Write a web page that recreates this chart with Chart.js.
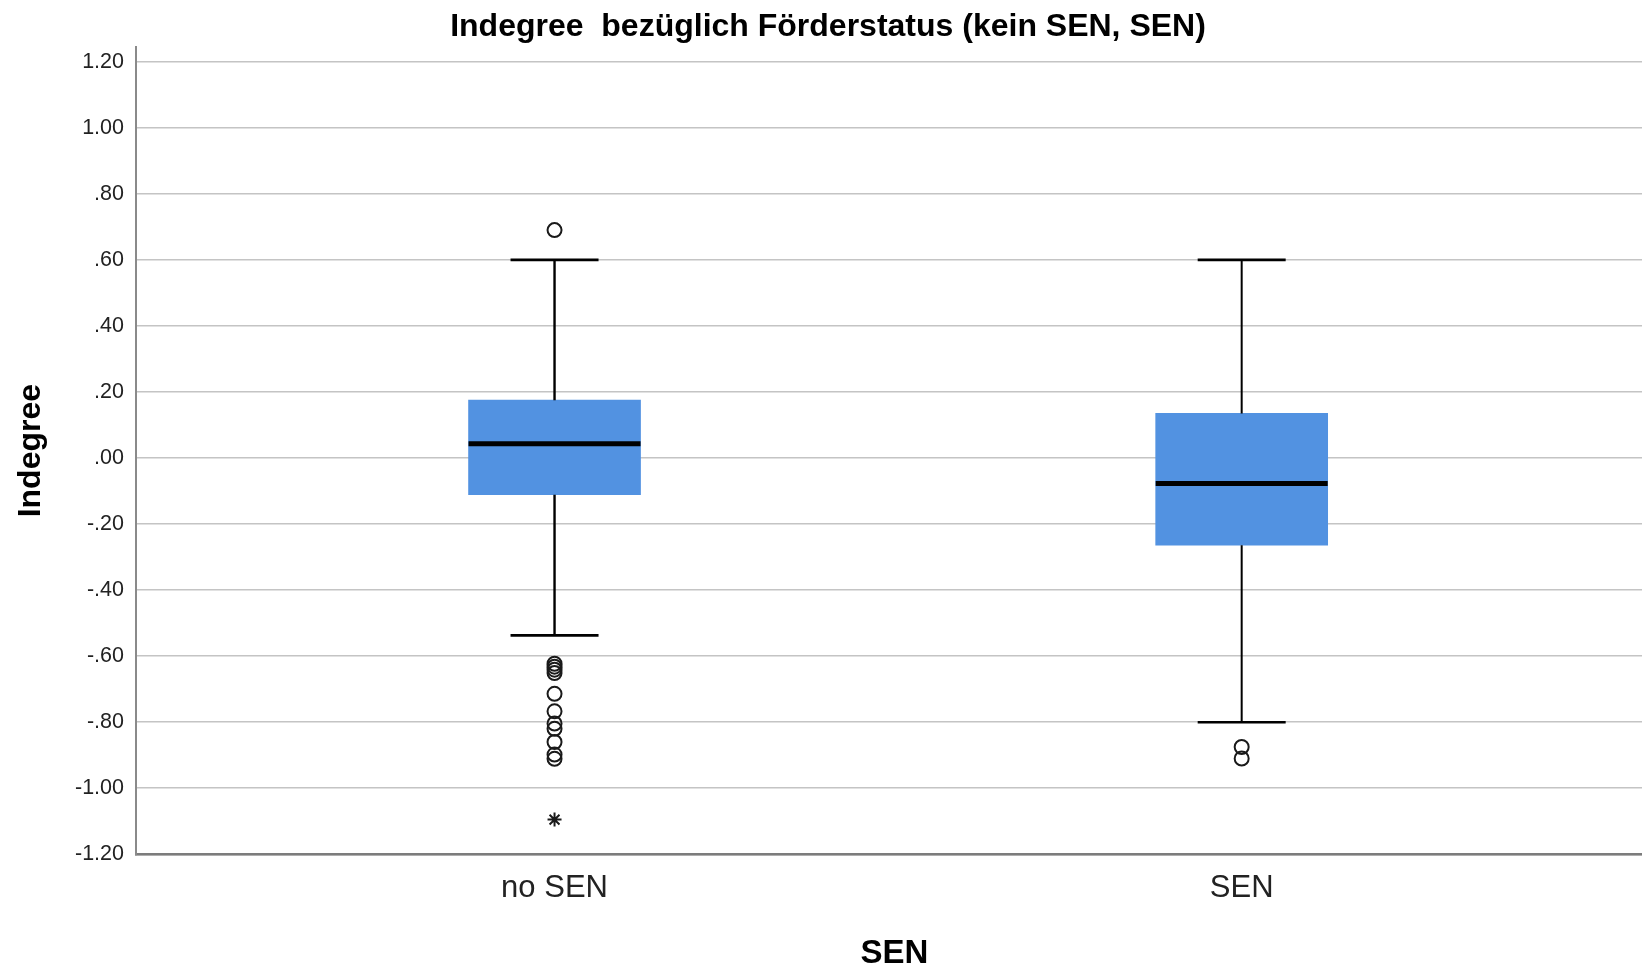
<!DOCTYPE html>
<html>
<head>
<meta charset="utf-8">
<title>Indegree bezüglich Förderstatus</title>
<script src="https://cdn.jsdelivr.net/npm/chart.js@4.4.1/dist/chart.umd.min.js"></script>
<style>
  html, body { margin: 0; padding: 0; background: #fff; overflow: hidden; }
  #wrap { position: relative; width: 1642px; height: 965px; overflow: hidden; }
  #boxChart { position: absolute; left: -6px; top: 0; }
</style>
</head>
<body>
<div id="wrap"><canvas id="boxChart" width="1668" height="965"></canvas></div>
<script>

//// data ////

const categories = ['no SEN', 'SEN'];
const q1 = [-0.111, -0.264];
const medians = [0.043, -0.077];
const q3 = [0.175, 0.135];
const whiskerLow = [-0.537, -0.80];
const whiskerHigh = [0.60, 0.60];
const outliersNoSen = [0.69, -0.623, -0.632, -0.641, -0.651, -0.714, -0.767, -0.804, -0.820, -0.860, -0.898, -0.911];
const outliersSen = [-0.875, -0.91];
const extremesNoSen = [-1.095];
const yTickValues = [-1.2, -1.0, -0.8, -0.6, -0.4, -0.2, 0, 0.2, 0.4, 0.6, 0.8, 1.0, 1.2];
const yTickLabels = ['-1.20', '-1.00', '-.80', '-.60', '-.40', '-.20', '.00', '.20', '.40', '.60', '.80', '1.00', '1.20'];

Chart.defaults.font.family = "'Liberation Sans', Arial, sans-serif";
Chart.defaults.color = '#222';

// whiskers, caps and median lines, drawn from the arrays above via the scales
const whiskerPlugin = {
    id: 'whiskers',
    afterDatasetsDraw(chart) {
        const ctx = chart.ctx;
        const x = chart.scales.x;
        const y = chart.scales.y;
        const capHalf = 44;
        const boxHalf = 86;
        ctx.save();
        ctx.strokeStyle = '#000';
        categories.forEach(function (c, i) {
            const cx = x.getPixelForValue(i + 1);
            ctx.lineWidth = i == 0 ? 2.4 : 2;
            ctx.beginPath();
            ctx.moveTo(cx, y.getPixelForValue(q3[i]));
            ctx.lineTo(cx, y.getPixelForValue(whiskerHigh[i]));
            ctx.moveTo(cx, y.getPixelForValue(q1[i]));
            ctx.lineTo(cx, y.getPixelForValue(whiskerLow[i]));
            ctx.stroke();
            ctx.lineWidth = 2.6;
            ctx.beginPath();
            ctx.moveTo(cx - capHalf, y.getPixelForValue(whiskerHigh[i]));
            ctx.lineTo(cx + capHalf, y.getPixelForValue(whiskerHigh[i]));
            ctx.moveTo(cx - capHalf, y.getPixelForValue(whiskerLow[i]));
            ctx.lineTo(cx + capHalf, y.getPixelForValue(whiskerLow[i]));
            ctx.stroke();
            ctx.lineWidth = 5;
            ctx.beginPath();
            ctx.moveTo(cx - boxHalf, y.getPixelForValue(medians[i]));
            ctx.lineTo(cx + boxHalf, y.getPixelForValue(medians[i]));
            ctx.stroke();
        });
        ctx.restore();
    }
};

function render_chart() {
    const ctx = document.getElementById('boxChart');
    const circleStyle = {
        type: 'scatter',
        pointStyle: 'circle',
        pointRadius: 7,
        borderColor: '#1a1a1a',
        borderWidth: 2,
        backgroundColor: 'rgba(255,255,255,0)'
    };
    const myChart = new Chart(ctx, {
        type: 'bar',
        data: {
            datasets: [
                {
                    label: 'Box',
                    data: categories.map((c, i) => ({ x: i + 1, y: [q1[i], q3[i]] })),
                    backgroundColor: '#5292e1',
                    borderWidth: 0,
                    barThickness: 172
                },
                Object.assign({ label: 'Ausreißer no SEN', data: outliersNoSen.map(v => ({ x: 1, y: v })) }, circleStyle),
                Object.assign({ label: 'Ausreißer SEN', data: outliersSen.map(v => ({ x: 2, y: v })) }, circleStyle),
                {
                    type: 'scatter',
                    label: 'Extremwerte',
                    data: extremesNoSen.map(v => ({ x: 1, y: v })),
                    pointStyle: 'star',
                    pointRadius: 7,
                    borderColor: '#1a1a1a',
                    borderWidth: 2
                }
            ]
        },
        options: {
            responsive: false,
            animation: false,
            events: [],
            layout: { padding: 0 },
            plugins: {
                legend: { display: false },
                tooltip: { enabled: false },
                title: {
                    display: true,
                    text: 'Indegree  bezüglich Förderstatus (kein SEN, SEN)',
                    color: '#000',
                    font: { size: 32, weight: 'bold', lineHeight: 1.2 },
                    padding: { top: 7.8, bottom: 0.8 }
                }
            },
            scales: {
                x: {
                    type: 'linear',
                    offset: false,
                    min: 0.3909,
                    max: 2.5986,
                    afterBuildTicks: function (scale) {
                        scale.ticks = categories.map((c, i) => ({ value: i + 1 }));
                    },
                    afterFit: function (scale) {
                        scale.height = 110.7;
                        scale.paddingLeft = 0;
                        scale.paddingRight = 0;
                    },
                    ticks: {
                        autoSkip: false,
                        maxRotation: 0,
                        padding: 16,
                        font: { size: 31 },
                        callback: function (v) { return categories[v - 1]; }
                    },
                    grid: { display: false, drawTicks: false, offset: false },
                    border: { color: '#7c7c7c', width: 2.5 },
                    title: {
                        display: true,
                        text: 'SEN',
                        color: '#000',
                        font: { size: 33, weight: 'bold', lineHeight: 0.65 },
                        padding: { top: 0, bottom: 0 }
                    }
                },
                y: {
                    type: 'linear',
                    min: -1.2,
                    max: 1.2445,
                    afterBuildTicks: function (scale) {
                        scale.ticks = yTickValues.map(v => ({ value: v }));
                    },
                    afterFit: function (scale) {
                        scale.width = 142;
                    },
                    ticks: {
                        autoSkip: false,
                        padding: 12,
                        font: { size: 21.5 },
                        callback: function (v, i) { return yTickLabels[i]; }
                    },
                    grid: { color: '#c4c4c4', lineWidth: 1.5, drawTicks: false },
                    border: { color: '#8a8a8a', width: 2 },
                    title: {
                        display: true,
                        text: 'Indegree',
                        color: '#000',
                        font: { size: 32, weight: 'bold', lineHeight: 1 },
                        padding: { top: 21, bottom: 0 }
                    }
                }
            }
        },
        plugins: [whiskerPlugin]
    });
    myChart.render();
}

render_chart();
</script>
</body>
</html>
